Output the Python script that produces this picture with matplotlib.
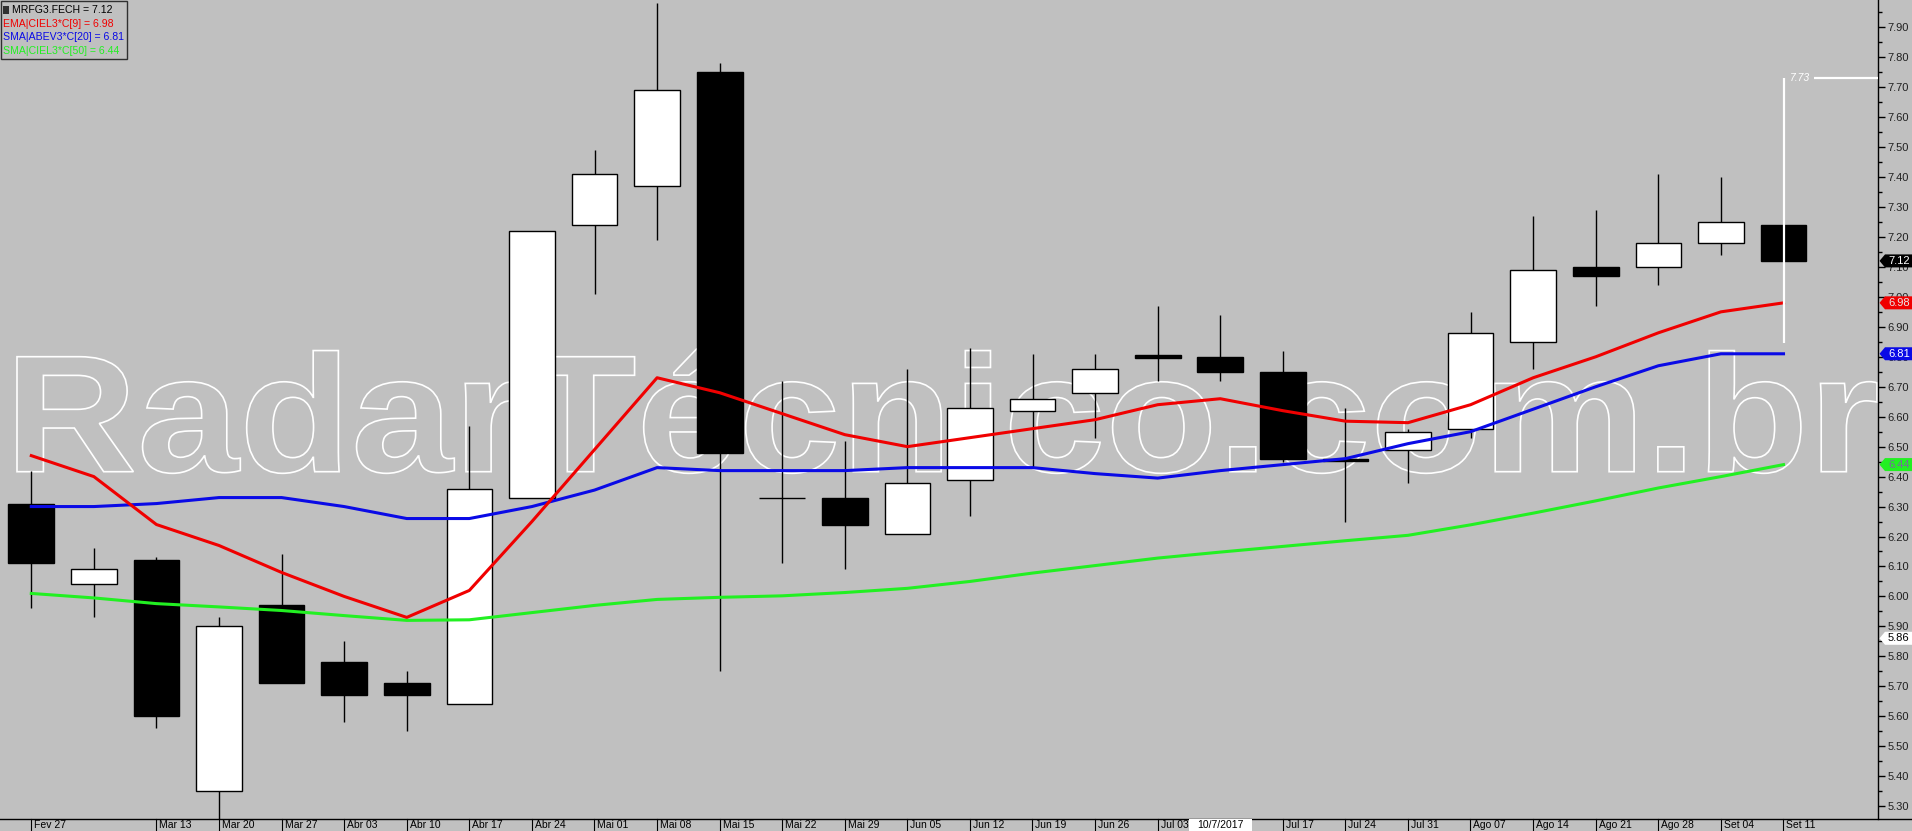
import matplotlib
matplotlib.use('Agg')
import matplotlib.pyplot as plt
from matplotlib.patches import Rectangle, Polygon, PathPatch
from matplotlib.textpath import TextPath
from matplotlib.font_manager import FontProperties
from matplotlib.transforms import Affine2D
import numpy as np

# ---------------- data ----------------
dates = ["Fev 27", "Mar 06", "Mar 13", "Mar 20", "Mar 27", "Abr 03", "Abr 10", "Abr 17",
         "Abr 24", "Mai 01", "Mai 08", "Mai 15", "Mai 22", "Mai 29", "Jun 05", "Jun 12",
         "Jun 19", "Jun 26", "Jul 03", "Jul 10", "Jul 17", "Jul 24", "Jul 31", "Ago 07",
         "Ago 14", "Ago 21", "Ago 28", "Set 04", "Set 11"]
hidden_labels = ["Mar 06", "Jul 10"]
highlight_label = "10/7/2017"
highlight_index = 19

opens  = [6.31, 6.04, 6.12, 5.35, 5.97, 5.78, 5.71, 5.64, 6.33, 7.24, 7.37, 7.75, 6.33, 6.33, 6.21,
          6.39, 6.62, 6.68, 6.805, 6.80, 6.75, 6.46, 6.49, 6.56, 6.85, 7.10, 7.10, 7.18, 7.24]
highs  = [6.42, 6.16, 6.13, 5.93, 6.14, 5.85, 5.75, 6.57, 7.22, 7.49, 7.98, 7.78, 6.72, 6.52, 6.76,
          6.83, 6.81, 6.81, 6.97, 6.94, 6.82, 6.63, 6.56, 6.95, 7.27, 7.29, 7.41, 7.40, 7.24]
lows   = [5.96, 5.93, 5.56, 5.24, 5.71, 5.58, 5.55, 5.64, 6.33, 7.01, 7.19, 5.75, 6.11, 6.09, 6.21,
          6.27, 6.43, 6.53, 6.72, 6.72, 6.45, 6.25, 6.38, 6.53, 6.76, 6.97, 7.04, 7.14, 7.12]
closes = [6.11, 6.09, 5.60, 5.90, 5.71, 5.67, 5.67, 6.36, 7.22, 7.41, 7.69, 6.48, 6.33, 6.24, 6.38,
          6.63, 6.66, 6.76, 6.795, 6.75, 6.46, 6.452, 6.55, 6.88, 7.09, 7.07, 7.18, 7.25, 7.12]

ema9  = [6.47, 6.40, 6.24, 6.17, 6.08, 6.00, 5.93, 6.02, 6.25, 6.49, 6.73, 6.68, 6.61, 6.54, 6.50,
         6.53, 6.56, 6.59, 6.64, 6.66, 6.62, 6.585, 6.58, 6.64, 6.73, 6.80, 6.88, 6.95, 6.98]
sma20 = [6.30, 6.30, 6.31, 6.33, 6.33, 6.30, 6.26, 6.26, 6.30, 6.355, 6.43, 6.42, 6.42, 6.42, 6.43,
         6.43, 6.43, 6.41, 6.395, 6.42, 6.44, 6.46, 6.51, 6.55, 6.625, 6.70, 6.77, 6.81, 6.81]
sma50 = [6.01, 5.995, 5.976, 5.965, 5.953, 5.936, 5.92, 5.922, 5.946, 5.97, 5.99, 5.997, 6.002, 6.013,
         6.027, 6.05, 6.078, 6.103, 6.128, 6.148, 6.167, 6.186, 6.204, 6.239, 6.278, 6.319, 6.362,
         6.40, 6.44]

legend_texts = ["MRFG3.FECH = 7.12", "EMA|CIEL3*C[9] = 6.98", "SMA|ABEV3*C[20] = 6.81",
                "SMA|CIEL3*C[50] = 6.44"]
markers = [(7.12, "7.12"), (6.98, "6.98"), (6.81, "6.81"), (6.44, "6.44"), (5.86, "5.86")]
measure_value = 7.73
measure_bottom = 6.845
watermark = "RadarTécnico.com.br"

# ---------------- figure ----------------
W, H = 1912, 831
DPI = 100
BG = '#c0c0c0'
RED = '#f00000'
BLUE = '#0a0ae6'
GREEN = '#22f022'
FONT = 'Liberation Sans'

fig = plt.figure(figsize=(W / DPI, H / DPI), dpi=DPI, facecolor=BG)
axis_x = 1878.0
axis_y = 818.7  # from top
ax = fig.add_axes([0, (H - axis_y) / H, axis_x / W, axis_y / H])
ax.set_facecolor(BG)
ax.set_xlim(-0.5, 29.51)
ax.set_ylim(5.258, 7.991)

for s in ['top', 'left', 'bottom']:
    ax.spines[s].set_visible(False)
ax.spines['right'].set_color('black')
ax.spines['right'].set_linewidth(1)
ax.set_xticks([])
ax.yaxis.set_ticks_position('right')
major = np.round(np.arange(5.3, 7.91, 0.1), 2)
minor = np.round(np.arange(5.35, 7.96, 0.1), 2)
ax.set_yticks(major)
ax.set_yticks(minor, minor=True)
ax.set_yticklabels([f"{v:.2f}" for v in major], fontsize=8, family=FONT, color='#202020')
ax.tick_params(axis='y', which='major', length=5, width=1, color='black', pad=2)
ax.tick_params(axis='y', which='minor', length=3, width=1, color='black')

x = np.arange(len(dates))

# watermark (outlined text), in display pixels
fp = FontProperties(family=FONT, weight='bold')
tp = TextPath((0, 0), watermark, size=100, prop=fp)
cap = TextPath((0, 0), "R", size=100, prop=fp).get_extents()
ext = tp.get_extents()
x_left, x_right = 17.0, 1877.0
baseline = H - 471.7
cap_h = 115.0
sx = (x_right - x_left) / ext.width
sy = cap_h / cap.height
tr = Affine2D().translate(-ext.x0, 0).scale(sx, sy).translate(x_left, baseline)
wm = PathPatch(tr.transform_path(tp), facecolor='none', edgecolor='white', lw=1.2,
               transform=None, zorder=1, clip_on=False)
ax.add_artist(wm)

# candles
bw = 0.73
for i in range(len(dates)):
    o, h, l, c = opens[i], highs[i], lows[i], closes[i]
    ax.vlines(x[i], l, h, color='black', lw=1, zorder=2)
    lo, hi = min(o, c), max(o, c)
    up = c >= o
    if hi - lo < 0.004:
        ax.hlines(o, x[i] - bw / 2, x[i] + bw / 2, color='black', lw=1 if hi == lo else 2.2, zorder=3)
    else:
        ax.add_patch(Rectangle((x[i] - bw / 2, lo), bw, hi - lo,
                               facecolor='white' if up else 'black', edgecolor='black',
                               lw=1, zorder=3))

# moving averages
ax.plot(x, sma50, color=GREEN, lw=2.2, zorder=4, solid_joinstyle='round')
ax.plot(x, sma20, color=BLUE, lw=2.2, zorder=4, solid_joinstyle='round')
ax.plot(x, ema9, color=RED, lw=2.2, zorder=5, solid_joinstyle='round')

# measuring line
last = x[-1]
ax.vlines(last, measure_bottom, measure_value, color='white', lw=1.6, zorder=6)
ax.hlines(measure_value, 28.48, 29.51, color='white', lw=1.6, zorder=6)
ax.text(28.1, measure_value, f"{measure_value:.2f}", color='white', fontsize=7.5, family=FONT,
        style='italic', va='center', ha='left', zorder=6)

# ---------------- pixel helpers ----------------
def fx(px):
    return px / W

def fy(py_top):
    return (H - py_top) / H

def y_px(v):
    return 27.3 + (7.90 - v) * 299.5

# bottom axis line and date strip
fig.add_artist(plt.Line2D([0, 1], [fy(axis_y), fy(axis_y)], color='black', lw=1,
                          transform=fig.transFigure, zorder=5))
for i, d in enumerate(dates):
    px = 31.3 + 62.57 * i
    if d in hidden_labels:
        continue
    fig.add_artist(plt.Line2D([fx(px), fx(px)], [fy(axis_y), 0], color='black', lw=0.8,
                              transform=fig.transFigure, zorder=5))
    fig.text(fx(px + 3), fy(825.5), d, fontsize=7.5, family=FONT, color='black',
             ha='left', va='center', zorder=5)
hx = 31.3 + 62.57 * highlight_index
fig.add_artist(Rectangle((fx(hx - 31), 0), fx(63), fy(axis_y + 0.5), transform=fig.transFigure,
                         facecolor='white', edgecolor='none', zorder=6))
fig.text(fx(hx), fy(825.5), highlight_label, fontsize=7.5, family=FONT, color='black',
         ha='center', va='center', zorder=7)

# right axis value markers
marker_styles = [('black', 'white'), (RED, '#e8e8e8'), (BLUE, 'white'),
                 (GREEN, '#7a68a0'), ('white', 'black')]
for (v, lab), (fc, tc) in zip(markers, marker_styles):
    yc = y_px(v)
    pts = [(axis_x + 1.5, yc), (axis_x + 7, yc - 6.5), (W, yc - 6.5), (W, yc + 6.5), (axis_x + 7, yc + 6.5)]
    pts = [(fx(a), fy(b)) for a, b in pts]
    fig.add_artist(Polygon(pts, closed=True, transform=fig.transFigure, facecolor=fc,
                           edgecolor='none', zorder=8))
    fig.text(fx(axis_x + 10), fy(yc), lab, fontsize=8, family=FONT, color=tc,
             ha='left', va='center', zorder=9)

# legend box
fig.add_artist(Rectangle((fx(0.5), fy(59)), fx(126), 58.5 / H, transform=fig.transFigure,
                         facecolor=BG, edgecolor='#303030', lw=1, zorder=8))
fig.add_artist(Rectangle((fx(3), fy(14)), fx(6), 8 / H, transform=fig.transFigure,
                         facecolor='#303030', edgecolor='none', zorder=9))
leg_colors = ['black', RED, BLUE, GREEN]
leg_x = [12, 3, 3, 3]
leg_y = [10, 24, 37.5, 51.5]
for t, c, lx, ly in zip(legend_texts, leg_colors, leg_x, leg_y):
    fig.text(fx(lx), fy(ly), t, fontsize=7.6, family=FONT, color=c, ha='left', va='center', zorder=9)

fig.savefig('out.png', dpi=DPI, facecolor=BG)
